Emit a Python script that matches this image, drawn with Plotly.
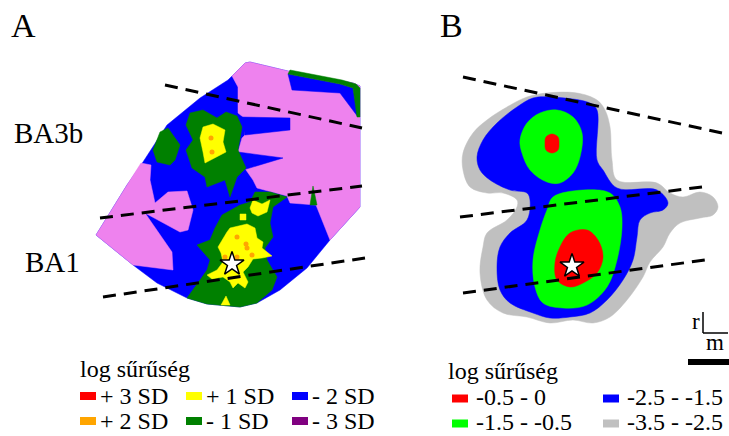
import plotly.graph_objects as go

# ---------------- Panel A: SD-class patches on the cortical map (map units) ----------------
a_hull = [(96, 235), (127, 185), (143, 162), (167, 125), (200, 98), (228, 80), (245, 63), (250, 62),
          (292, 72), (353, 83), (360, 86), (360, 207), (330, 240), (307, 268), (280, 290), (257, 303),
          (240, 307), (207, 304), (187, 298), (157, 283), (133, 265)]

a_pink_upper = [(232, 76), (245, 63), (250, 62), (292, 72), (353, 83), (360, 86), (360, 207), (330, 240),
                (316, 205), (290, 203), (287, 196), (257, 188), (253, 180), (246, 170), (238, 152),
                (242, 138), (245, 135), (243, 117), (238, 113), (238, 87)]
a_pink_left = [(141, 163), (151, 165), (150, 180), (155, 203), (168, 192), (187, 191), (193, 210),
               (188, 230), (180, 232), (145, 213), (172, 252), (173, 270), (133, 265), (96, 235), (127, 185)]

a_blue_patches = [
    [(240, 117), (290, 118), (290, 130), (245, 135)],
    [(238, 152), (283, 158), (243, 170)],
    [(288, 74), (340, 84), (353, 88), (358, 117), (340, 93), (292, 90)],
    [(205, 292), (222, 290), (224, 302), (207, 303)],
]

a_green_patches = [
    # upper cluster (BA3b)
    [(190, 113), (203, 110), (217, 118), (226, 112), (237, 116), (242, 127), (238, 150), (246, 168),
     (237, 177), (230, 197), (225, 180), (207, 187), (205, 177), (192, 168), (186, 150), (193, 140),
     (186, 125)],
    # small patch on the upper-left rim
    [(160, 132), (168, 128), (180, 145), (175, 160), (170, 165), (157, 162), (153, 150)],
    # lower cluster (BA1)
    [(197, 245), (210, 240), (215, 228), (222, 215), (240, 205), (250, 202), (255, 192), (270, 192),
     (287, 197), (273, 207), (270, 223), (273, 237), (265, 248), (267, 260), (277, 277), (272, 290),
     (257, 303), (240, 307), (207, 304), (187, 298), (200, 280), (207, 270), (210, 260)],
    # thin strip along the upper-right rim
    [(290, 70), (342, 80), (356, 84), (360, 88), (360, 117), (357, 117), (353, 88), (340, 84), (288, 74)],
    # spike between the pink areas
    [(313, 186), (310, 205), (317, 205)],
]

a_yellow_patches = [
    [(203, 127), (213, 124), (225, 130), (223, 142), (226, 152), (218, 156), (205, 163), (203, 152),
     (200, 138)],
    [(250, 208), (253, 200), (262, 204), (270, 200), (267, 212), (258, 216), (252, 213)],
    [(230, 228), (240, 226), (247, 224), (255, 228), (257, 238), (263, 242), (262, 248), (272, 256),
     (262, 258), (253, 259), (248, 267), (243, 272), (248, 282), (245, 288), (238, 283), (233, 288),
     (230, 282), (223, 277), (212, 279), (207, 275), (217, 270), (223, 262), (221, 253), (218, 247),
     (223, 238), (227, 232)],
    [(240, 214), (246, 214), (246, 220), (240, 220)],
    [(221, 305), (226, 296), (230, 305)],
]

a_orange_x = [211, 212, 237, 247, 225, 237, 252, 228, 246]
a_orange_y = [138, 152, 237, 248, 257, 257, 255, 262, 244]
a_star = (232, 264)

a_borders = [((165, 85), (362, 128)), ((100, 218), (362, 186)), ((103, 297), (365, 258))]

# ---------------- Panel B: log-density contour bands ----------------
b_gray = [(547, 93), (577, 93), (597, 100), (605, 110), (610, 127), (612, 160), (617, 180), (657, 183),
          (670, 193), (683, 197), (700, 192), (713, 197), (718, 207), (713, 215), (700, 218), (680, 223),
          (670, 233), (663, 247), (650, 262), (643, 277), (627, 300), (610, 317), (593, 323), (573, 320),
          (550, 323), (527, 317), (503, 313), (487, 300), (480, 273), (483, 247), (487, 233), (507, 220),
          (517, 207), (517, 200), (503, 193), (487, 193), (470, 187), (463, 170), (463, 153), (473, 133),
          (487, 120), (507, 107), (527, 97)]
b_blue = [(550, 97), (590, 103), (597, 110), (597, 160), (603, 170), (617, 188), (657, 190), (668, 203),
          (663, 210), (650, 213), (640, 220), (637, 237), (633, 260), (623, 280), (607, 300), (590, 313),
          (570, 317), (550, 318), (533, 313), (510, 303), (500, 290), (497, 267), (500, 247), (510, 233),
          (527, 220), (530, 200), (527, 193), (510, 190), (490, 180), (480, 170), (477, 157), (483, 140),
          (497, 123), (517, 107), (533, 98)]
b_green_upper = [(527, 123), (540, 113), (557, 110), (573, 117), (582, 133), (580, 157), (573, 173),
                 (560, 183), (547, 182), (530, 170), (522, 153), (520, 140)]
b_green_lower = [(553, 197), (583, 190), (610, 193), (620, 207), (622, 227), (617, 260), (607, 287),
                 (587, 305), (563, 308), (543, 303), (535, 287), (533, 260), (540, 230), (547, 210)]
b_red_upper = [(552, 134), (558, 137), (559, 143), (558, 150), (552, 153), (546, 150), (545, 143), (546, 137)]
b_red_lower = [(570, 233), (587, 230), (598, 240), (603, 257), (597, 273), (583, 283), (570, 287),
               (557, 280), (555, 263), (560, 247)]
b_star = (572, 266)

b_borders = [((463, 77), (722, 133)), ((460, 217), (702, 187)), ((463, 293), (705, 260))]

# ---------------- Legends ----------------
legend_a_labels = ["+ 3 SD", "+ 2 SD", "+ 1 SD", "- 1 SD", "- 2 SD", "- 3 SD"]
legend_a_colors = ["#ff0000", "#ffa500", "#ffff00", "#008000", "#0000ff", "#800080"]
legend_b_labels = ["-0.5 - 0", "-1.5 - -0.5", "-2.5 - -1.5", "-3.5 - -2.5"]
legend_b_colors = ["#ff0000", "#00ff00", "#0000ff", "#c0c0c0"]

PINK, BLUE, GREEN, YELLOW, ORANGE, RED = "#ee82ee", "#0000ff", "#008000", "#ffff00", "#ffa500", "#ff0000"
FONT = "Liberation Serif, Times New Roman, serif"

fig = go.Figure()


def patch(points, color, smooth=False):
    xs = [p[0] for p in points] + [points[0][0]]
    ys = [p[1] for p in points] + [points[0][1]]
    fig.add_trace(go.Scatter(
        x=xs, y=ys, mode="lines", fill="toself", fillcolor=color,
        line=dict(color=color, width=0.5, shape="spline" if smooth else "linear",
                  smoothing=1.0 if smooth else 0),
        hoverinfo="skip", showlegend=False))


def border(seg):
    (x0, y0), (x1, y1) = seg
    fig.add_trace(go.Scatter(x=[x0, x1], y=[y0, y1], mode="lines",
                             line=dict(color="black", width=3, dash="13px,8px"),
                             hoverinfo="skip", showlegend=False))


def star(pt):
    fig.add_trace(go.Scatter(x=[pt[0]], y=[pt[1]], mode="markers",
                             marker=dict(symbol="star", size=18, color="white",
                                         line=dict(color="black", width=1.5)),
                             hoverinfo="skip", showlegend=False))


# Panel A
patch(a_hull, BLUE)
patch(a_pink_upper, PINK)
patch(a_pink_left, PINK)
for p in a_blue_patches:
    patch(p, BLUE)
for p in a_green_patches:
    patch(p, GREEN)
for p in a_yellow_patches:
    patch(p, YELLOW)
fig.add_trace(go.Scatter(x=a_orange_x, y=a_orange_y, mode="markers",
                         marker=dict(size=5, color=ORANGE, line=dict(width=0)),
                         hoverinfo="skip", showlegend=False))
for seg in a_borders:
    border(seg)
star(a_star)

# Panel B
patch(b_gray, "#c0c0c0", smooth=True)
patch(b_blue, "#0000ff", smooth=True)
patch(b_green_upper, "#00ff00", smooth=True)
patch(b_green_lower, "#00ff00", smooth=True)
patch(b_red_upper, "#ff0000", smooth=True)
patch(b_red_lower, "#ff0000", smooth=True)
for seg in b_borders:
    border(seg)
star(b_star)

shapes = []
annotations = []


def text(x, y, s, size=24, xanchor="left"):
    annotations.append(dict(x=x, y=y, xref="x", yref="y", text=s, showarrow=False,
                            xanchor=xanchor, yanchor="middle",
                            font=dict(family=FONT, size=size, color="black")))


# panel and area labels
text(23, 25, "A", size=34, xanchor="center")
text(451, 25, "B", size=34, xanchor="center")
text(48, 133, "BA3b", size=29, xanchor="center")
text(52, 262, "BA1", size=29, xanchor="center")

# legend A (three columns, two rows)
text(78, 369, "log sűrűség")
col_x_a = [80, 186, 292]
row_y = [396, 421]
for i, (lab, col) in enumerate(zip(legend_a_labels, legend_a_colors)):
    cx = col_x_a[i // 2]
    cy = row_y[i % 2]
    shapes.append(dict(type="rect", xref="x", yref="y", x0=cx, x1=cx + 16, y0=cy - 4, y1=cy + 4,
                       fillcolor=col, line=dict(width=0)))
    text(cx + 18, cy, lab)

# legend B (two columns, two rows)
text(446, 371, "log sűrűség")
col_x_b = [452, 603]
row_y_b = [396.5, 421.5]
for i, (lab, col) in enumerate(zip(legend_b_labels, legend_b_colors)):
    cx = col_x_b[i // 2]
    cy = row_y_b[i % 2]
    shapes.append(dict(type="rect", xref="x", yref="y", x0=cx, x1=cx + 16, y0=cy - 2,
                       y1=cy + 6, fillcolor=col, line=dict(width=0)))
    text(cx + 22, cy, lab)

# orientation mark and scale bar
shapes.append(dict(type="line", xref="x", yref="y", x0=703, x1=703, y0=312, y1=333,
                   line=dict(color="black", width=1.5)))
shapes.append(dict(type="line", xref="x", yref="y", x0=703, x1=728, y0=333, y1=333,
                   line=dict(color="black", width=1.5)))
shapes.append(dict(type="line", xref="x", yref="y", x0=688, x1=729, y0=362, y1=362,
                   line=dict(color="black", width=6)))
text(696, 321, "r", size=23, xanchor="center")
text(715, 342, "m", size=23, xanchor="center")

fig.update_layout(
    width=729, height=436,
    margin=dict(l=0, r=0, t=0, b=0),
    paper_bgcolor="white", plot_bgcolor="white",
    xaxis=dict(range=[0, 729], visible=False, fixedrange=True),
    yaxis=dict(range=[436, 0], visible=False, fixedrange=True),
    shapes=shapes, annotations=annotations,
    showlegend=False,
)

fig.write_html("out.html")
